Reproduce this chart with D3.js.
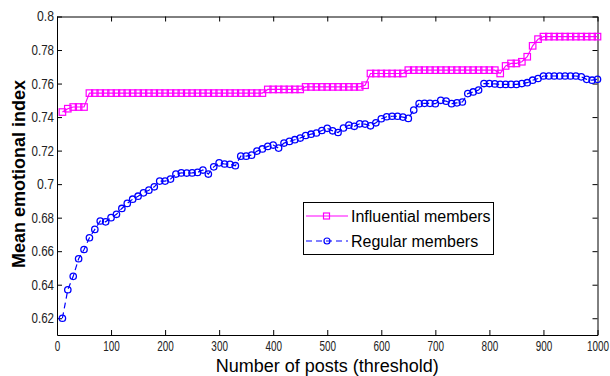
<!DOCTYPE html>
<html><head><meta charset="utf-8">
<script src="https://cdn.jsdelivr.net/npm/d3@7"></script>
<style>body{margin:0;background:#fff}svg{display:block}text{font-family:"Liberation Sans",Arial,sans-serif}</style>
</head><body><svg id="c" width="610" height="376"></svg>
<script>
const thresholds = d3.range(10, 1001, 10);
const influential = [
0.743,0.745,0.746,0.746,0.746,
0.7543,0.7543,0.7543,0.7543,0.7543,0.7543,0.7543,0.7543,0.7543,0.7543,
0.7543,0.7543,0.7543,0.7543,0.7543,0.7543,0.7543,0.7543,0.7543,0.7543,
0.7543,0.7543,0.7543,0.7543,0.7543,0.7543,0.7543,0.7543,0.7543,0.7543,
0.7543,0.7543,0.7543,
0.7565,0.7565,0.7565,0.7565,0.7565,0.7565,0.7565,
0.758,0.758,0.758,0.758,0.758,0.758,0.758,0.758,0.758,0.758,0.758,
0.759,
0.766,0.766,0.766,0.766,0.766,0.766,0.766,
0.768,0.768,0.768,0.768,0.768,0.768,0.768,0.768,0.768,0.768,0.768,0.768,0.768,0.768,0.768,0.768,0.768,
0.766,0.7705,0.772,0.772,0.773,0.776,0.7825,0.7865,
0.788,0.788,0.788,0.788,0.788,0.788,0.788,0.788,0.788,0.788,0.788
];
const regular = [
0.620,0.637,0.645,0.6555,0.661,0.668,0.673,0.678,0.6775,0.680,
0.682,0.6855,0.6885,0.691,0.6928,0.6948,0.6964,0.6984,0.7018,0.7018,
0.703,0.706,0.7067,0.7066,0.7067,0.707,0.7084,0.706,0.7103,0.7127,
0.712,0.7118,0.711,0.7167,0.7167,0.7173,0.7197,0.721,0.7225,0.7233,
0.7215,0.7245,0.7255,0.7265,0.7275,0.729,0.7298,0.7305,0.732,0.7333,
0.7318,0.7308,0.7335,0.7352,0.7345,0.736,0.7358,0.7348,0.7366,0.739,
0.7402,0.7405,0.7405,0.740,0.7392,0.7442,0.748,0.7482,0.7482,0.748,
0.750,0.7495,0.748,0.7485,0.749,0.754,0.755,0.7561,0.760,0.760,
0.7598,0.7595,0.7595,0.7595,0.7595,0.760,0.7605,0.762,0.763,0.7645,
0.7645,0.7645,0.7645,0.7645,0.7645,0.7645,0.764,0.7625,0.762,0.7625
];
const xTicks = d3.range(0, 1001, 100);
const yTicks = [0.62,0.64,0.66,0.68,0.7,0.72,0.74,0.76,0.78,0.8];
const seriesNames = ["Influential members","Regular members"];

const svg = d3.select("#c");
const L=57, R=597.5, T=16.5, B=335;
const x = d3.scaleLinear().domain([0,1000]).range([L,R]);
const y = d3.scaleLinear().domain([0.61,0.8]).range([B,T]);
const fmt = d => d===0.7?"0.7":(d===0.8?"0.8":d3.format(".2f")(d));

// axes
const ax = svg.append("g");
const gx = ax.append("g").attr("transform",`translate(0,${B})`)
  .call(d3.axisBottom(x).tickValues(xTicks).tickSizeInner(-5).tickSizeOuter(0).tickPadding(6).tickFormat(d3.format("d")));
ax.append("g").attr("transform",`translate(0,${T})`)
  .call(d3.axisTop(x).tickValues(xTicks).tickSizeInner(-5).tickSizeOuter(0).tickFormat(""));
const gy = ax.append("g").attr("transform",`translate(${L},0)`)
  .call(d3.axisLeft(y).tickValues(yTicks).tickSizeInner(-5).tickSizeOuter(0).tickPadding(3).tickFormat(fmt));
ax.append("g").attr("transform",`translate(${R},0)`)
  .call(d3.axisRight(y).tickValues(yTicks).tickSizeInner(-5).tickSizeOuter(0).tickFormat(""));
ax.selectAll(".domain").attr("stroke","#000");
ax.selectAll(".tick line").attr("stroke","#000");
ax.selectAll(".tick text").attr("font-size","14px").attr("fill","#222").attr("font-family","'Liberation Sans',Arial,sans-serif");
gx.selectAll(".tick text").attr("transform","scale(0.71,1)");
gy.selectAll(".tick text").each(function(){
    const s = this.textContent;
    const digits = s.replace(/[^0-9]/g,"").length, dots = s.length - digits;
    d3.select(this).attr("textLength", digits*5.5 + dots*6).attr("lengthAdjust","spacingAndGlyphs");
  });

// data lines
const pts = (vals)=>thresholds.map((t,i)=>[t,vals[i]]);
const line = d3.line().x(d=>x(d[0])).y(d=>y(d[1]));
svg.append("path").datum(pts(influential)).attr("d",line).attr("fill","none").attr("stroke","#ff00ff").attr("stroke-width",1.2);
svg.append("path").datum(pts(regular)).attr("d",line).attr("fill","none").attr("stroke","#0000ff").attr("stroke-width",1.2).attr("stroke-dasharray","6,4");

const S=6.5;
svg.append("g").selectAll("rect").data(pts(influential)).join("rect")
  .attr("x",d=>x(d[0])-S/2).attr("y",d=>y(d[1])-S/2).attr("width",S).attr("height",S)
  .attr("fill","none").attr("stroke","#ff00ff").attr("stroke-width",1.2);
svg.append("g").selectAll("circle").data(pts(regular)).join("circle")
  .attr("cx",d=>x(d[0])).attr("cy",d=>y(d[1])).attr("r",3.2)
  .attr("fill","none").attr("stroke","#0000ff").attr("stroke-width",1.3);

// labels
svg.append("text").attr("x",(L+R)/2).attr("y",372).attr("text-anchor","middle").attr("font-size","18px").attr("fill","#000").text("Number of posts (threshold)");
svg.append("text").attr("transform","translate(25,174) rotate(-90)").attr("text-anchor","middle").attr("font-size","18px").attr("font-weight","bold").attr("fill","#000").text("Mean emotional index");

// legend
const lg = svg.append("g");
lg.append("rect").attr("x",303.5).attr("y",202.5).attr("width",190).attr("height",52).attr("fill","#fff").attr("stroke","#000").attr("stroke-width",1);
const rows=[{n:seriesNames[0],c:"#ff00ff",dash:null,m:"sq",yy:216},{n:seriesNames[1],c:"#0000ff",dash:"6,4",m:"ci",yy:241}];
rows.forEach(r=>{
  lg.append("line").attr("x1",306).attr("x2",348).attr("y1",r.yy).attr("y2",r.yy).attr("stroke",r.c).attr("stroke-width",1.2).attr("stroke-dasharray",r.dash);
  if(r.m==="sq") lg.append("rect").attr("x",323.5).attr("y",r.yy-3).attr("width",6).attr("height",6).attr("fill","none").attr("stroke",r.c).attr("stroke-width",1.2);
  else lg.append("circle").attr("cx",327).attr("cy",r.yy).attr("r",3).attr("fill","none").attr("stroke",r.c).attr("stroke-width",1.2);
  lg.append("text").attr("x",351).attr("y",r.yy+5.5).attr("font-size","16px").attr("fill","#000").text(r.n);
});
</script></body></html>
